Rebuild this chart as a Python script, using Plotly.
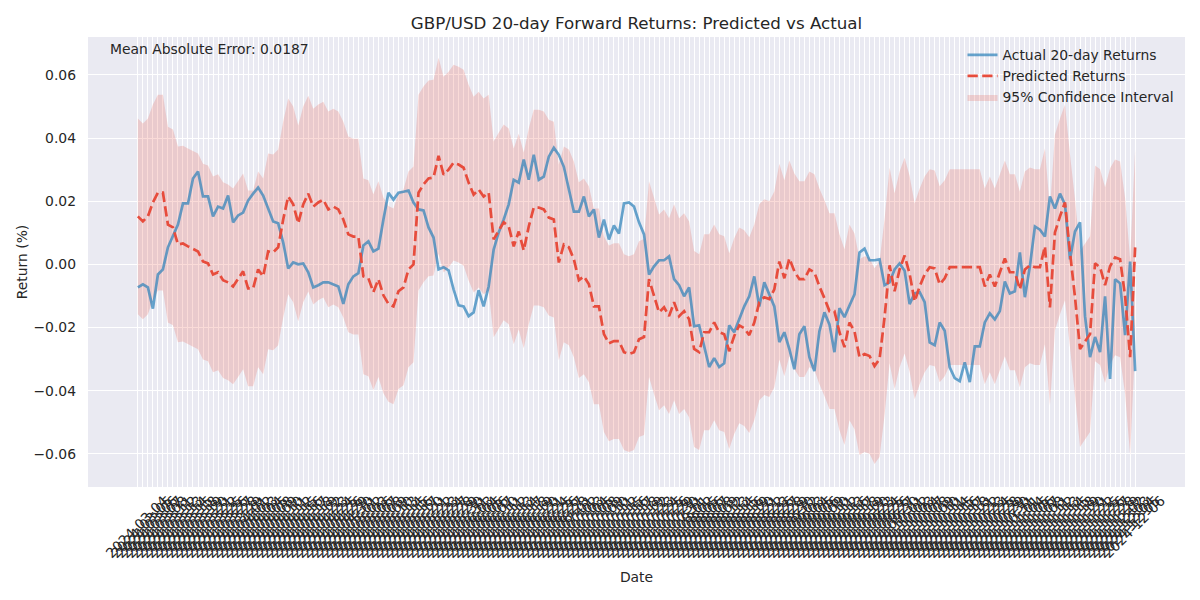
import pandas as pd
import plotly.graph_objects as go

# ---- data ----
dates = [d.strftime("%Y-%m-%d") for d in pd.bdate_range(end="2024-12-06", periods=200)]

actual_returns = [
    -0.0073, -0.0063, -0.0073, -0.0140, -0.0032, -0.0016, 0.0054, 0.0088, 0.0126, 0.0193,
    0.0193, 0.0272, 0.0294, 0.0215, 0.0215, 0.0152, 0.0183, 0.0177, 0.0218, 0.0133,
    0.0155, 0.0164, 0.0202, 0.0224, 0.0243, 0.0218, 0.0174, 0.0136, 0.0130, 0.0069,
    -0.0013, 0.0006, 0.0000, 0.0003, -0.0025, -0.0073, -0.0066, -0.0057, -0.0057, -0.0063,
    -0.0070, -0.0125, -0.0063, -0.0038, -0.0028, 0.0060, 0.0073, 0.0041, 0.0050, 0.0142,
    0.0227, 0.0205, 0.0227, 0.0230, 0.0234, 0.0196, 0.0174, 0.0171, 0.0117, 0.0085,
    -0.0016, -0.0009, -0.0019, -0.0079, -0.0130, -0.0133, -0.0164, -0.0152, -0.0082, -0.0133,
    -0.0070, 0.0047, 0.0101, 0.0142, 0.0190, 0.0268, 0.0259, 0.0332, 0.0268, 0.0347,
    0.0268, 0.0278, 0.0341, 0.0369, 0.0347, 0.0309, 0.0243, 0.0167, 0.0167, 0.0215,
    0.0152, 0.0174, 0.0085, 0.0142, 0.0079, 0.0123, 0.0098, 0.0193, 0.0196, 0.0183,
    0.0133, 0.0095, -0.0032, -0.0006, 0.0013, 0.0013, 0.0025, -0.0047, -0.0066, -0.0101,
    -0.0073, -0.0196, -0.0193, -0.0259, -0.0325, -0.0297, -0.0325, -0.0313, -0.0193, -0.0215,
    -0.0174, -0.0133, -0.0101, -0.0038, -0.0133, -0.0057, -0.0095, -0.0133, -0.0246, -0.0215,
    -0.0268, -0.0332, -0.0221, -0.0196, -0.0294, -0.0338, -0.0212, -0.0152, -0.0190, -0.0278,
    -0.0139, -0.0167, -0.0130, -0.0095, 0.0038, 0.0050, 0.0013, 0.0013, 0.0016, -0.0066,
    -0.0057, -0.0016, 0.0003, -0.0020, -0.0126, -0.0092, -0.0088, -0.0120, -0.0247, -0.0256,
    -0.0184, -0.0210, -0.0326, -0.0360, -0.0370, -0.0310, -0.0373, -0.0260, -0.0260, -0.0184,
    -0.0155, -0.0174, -0.0148, -0.0054, -0.0092, -0.0085, 0.0038, -0.0104, -0.0006, 0.0120,
    0.0110, 0.0088, 0.0215, 0.0177, 0.0224, 0.0190, 0.0016, 0.0104, 0.0133, -0.0164,
    -0.0294, -0.0230, -0.0278, -0.0101, -0.0363, -0.0047, -0.0060, -0.0224, 0.0009, -0.0338,
]

predicted_returns = [
    0.0152, 0.0136, 0.0152, 0.0196, 0.0227, 0.0227, 0.0126, 0.0117, 0.0063, 0.0066,
    0.0057, 0.0050, 0.0041, 0.0009, 0.0003, -0.0032, -0.0025, -0.0050, -0.0057, -0.0070,
    -0.0047, -0.0022, -0.0076, -0.0076, -0.0016, -0.0038, 0.0041, 0.0038, 0.0054, 0.0142,
    0.0215, 0.0190, 0.0130, 0.0190, 0.0224, 0.0183, 0.0196, 0.0205, 0.0174, 0.0183,
    0.0174, 0.0142, 0.0095, 0.0088, 0.0088, -0.0038, -0.0044, -0.0088, -0.0047, -0.0098,
    -0.0125, -0.0133, -0.0085, -0.0073, -0.0016, 0.0000, 0.0227, 0.0253, 0.0272, 0.0275,
    0.0344, 0.0284, 0.0300, 0.0322, 0.0316, 0.0306, 0.0259, 0.0221, 0.0237, 0.0215,
    0.0227, 0.0079, 0.0107, 0.0133, 0.0120, 0.0057, 0.0104, 0.0044, 0.0120, 0.0180,
    0.0180, 0.0174, 0.0148, 0.0142, 0.0006, 0.0063, 0.0054, 0.0016, -0.0050, -0.0038,
    -0.0063, -0.0133, -0.0133, -0.0221, -0.0250, -0.0243, -0.0243, -0.0278, -0.0284, -0.0278,
    -0.0237, -0.0230, -0.0047, -0.0101, -0.0152, -0.0136, -0.0164, -0.0120, -0.0164, -0.0148,
    -0.0174, -0.0268, -0.0278, -0.0215, -0.0215, -0.0184, -0.0215, -0.0221, -0.0275, -0.0227,
    -0.0193, -0.0202, -0.0224, -0.0184, -0.0120, -0.0104, -0.0110, -0.0079, 0.0009, -0.0044,
    0.0019, -0.0022, -0.0047, -0.0047, -0.0016, -0.0025, -0.0070, -0.0107, -0.0148, -0.0148,
    -0.0215, -0.0262, -0.0184, -0.0212, -0.0294, -0.0284, -0.0290, -0.0322, -0.0300, -0.0167,
    -0.0003, -0.0085, -0.0016, 0.0028, -0.0030, -0.0117, -0.0070, -0.0032, -0.0009, -0.0013,
    -0.0063, -0.0044, -0.0009, -0.0009, -0.0009, -0.0009, -0.0009, -0.0009, -0.0009, -0.0070,
    -0.0032, -0.0070, -0.0025, 0.0019, -0.0025, -0.0025, -0.0079, -0.0016, -0.0003, -0.0009,
    -0.0009, 0.0057, -0.0136, 0.0101, 0.0152, 0.0196, 0.0038, -0.0104, -0.0268, -0.0246,
    -0.0221, 0.0003, -0.0009, -0.0066, -0.0006, 0.0022, 0.0016, -0.0101, -0.0294, 0.0054,
]

ci_half_width = 0.031  # 95% CI half width
mae_value = 0.0187

ci_upper = [p + ci_half_width for p in predicted_returns]
ci_lower = [p - ci_half_width for p in predicted_returns]

# ---- styling ----
FONT = "DejaVu Sans"
TXT = "#262626"
BG = "#EAEAF2"
n = len(dates)
pad = 0.05 * (n - 1)

fig = go.Figure()

fig.add_trace(go.Scatter(
    x=dates + dates[::-1],
    y=ci_upper + ci_lower[::-1],
    fill="toself",
    fillcolor="rgba(231,76,60,0.2)",
    line=dict(width=0),
    mode="lines",
    name="95% Confidence Interval",
    legendrank=3,
    hoverinfo="skip",
))

fig.add_trace(go.Scatter(
    x=dates, y=actual_returns, mode="lines",
    line=dict(color="rgba(41,128,185,0.7)", width=2.7),
    name="Actual 20-day Returns", legendrank=1,
))

fig.add_trace(go.Scatter(
    x=dates, y=predicted_returns, mode="lines",
    line=dict(color="#e74c3c", width=2.7, dash="10.3px,4.4px"),
    name="Predicted Returns", legendrank=2,
))

# page body adds an 8px offset, so the figure is laid out in 1192x592
W, H = 1192, 592
fig.update_layout(
    width=W, height=H,
    paper_bgcolor="white", plot_bgcolor=BG,
    margin=dict(l=80, r=15, t=29, b=113, autoexpand=False),
    font=dict(family=FONT, size=13.9, color=TXT),
    title=dict(
        text="GBP/USD 20-day Forward Returns: Predicted vs Actual",
        xref="paper", x=0.5, xanchor="center", y=1 - 15 / H, yanchor="middle",
        font=dict(family=FONT, size=16.7, color=TXT),
    ),
    showlegend=True,
    legend=dict(
        x=0.995, xanchor="right", y=0.995, yanchor="top",
        bgcolor="rgba(0,0,0,0)", borderwidth=0,
        font=dict(family=FONT, size=13.9, color=TXT),
        tracegroupgap=0,
    ),
    annotations=[dict(
        text=f"Mean Absolute Error: {mae_value:.4f}",
        xref="paper", yref="paper", x=0.018, y=0.995,
        xanchor="left", yanchor="top", showarrow=False,
        font=dict(family=FONT, size=13.9, color=TXT),
    )],
)

fig.update_xaxes(
    type="category",
    range=[-pad, n - 1 + pad],
    tickmode="linear", tick0=0, dtick=1,
    tickangle=-45,
    ticklabelshift=26,
    ticklabelstandoff=2,
    showgrid=True, gridcolor="white", gridwidth=1,
    zeroline=False, showline=False, ticks="",
    tickfont=dict(family=FONT, size=13.9, color=TXT),
    title=dict(text="Date", font=dict(family=FONT, size=13.9, color=TXT), standoff=12),
    automargin=False,
)

fig.update_yaxes(
    range=[-0.0705, 0.072],
    tickmode="array",
    tickvals=[-0.06, -0.04, -0.02, 0.0, 0.02, 0.04, 0.06],
    tickformat=".2f",
    showgrid=True, gridcolor="white", gridwidth=1,
    zeroline=False, showline=False, ticks="",
    ticklabelstandoff=11,
    tickfont=dict(family=FONT, size=13.9, color=TXT),
    title=dict(text="Return (%)", font=dict(family=FONT, size=13.9, color=TXT), standoff=2),
    automargin=False,
)

fig.write_html("out.html")
